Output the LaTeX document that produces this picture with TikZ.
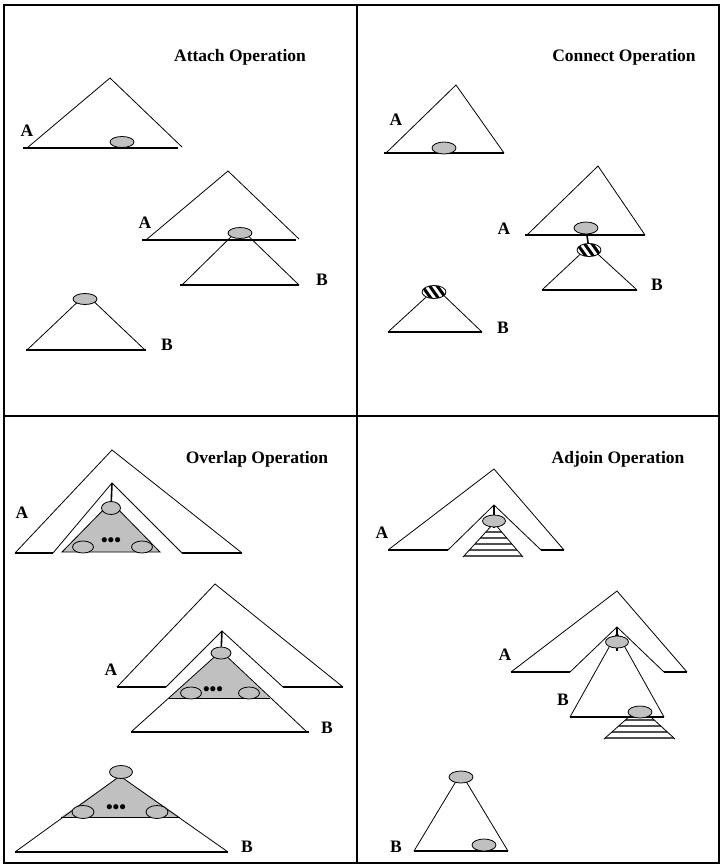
\documentclass[tikz,border=0pt]{standalone}
\usepackage{fontspec}
\setmainfont{Liberation Serif}
\usepackage{tikz}
\usetikzlibrary{shapes.geometric}
\definecolor{nodegray}{RGB}{192,192,192}
\definecolor{stripegray}{RGB}{80,80,80}
\tikzset{
  frame/.style={line width=1.4pt},
  edge/.style={line width=0.8pt},
  base/.style={line width=1.8pt},
  nd/.style={ellipse, draw, fill=nodegray, line width=0.8pt, inner sep=0pt,
             minimum width=24pt, minimum height=11pt},
  hatch/.style={nd, fill=white, minimum width=24pt, minimum height=13pt,
    path picture={\foreach \d in {-7.5,0,7.5}
      \draw[line width=3pt] ([xshift=\d pt-5pt, yshift=7pt]path picture bounding box.center) -- ++(10pt,-14pt);}},
  lbl/.style={font=\bfseries\fontsize{17.5}{17}\selectfont, inner sep=0pt},
  ttl/.style={font=\bfseries\fontsize{17.5}{18}\selectfont, inner sep=0pt},
  dots/.style={font=\bfseries\fontsize{19}{19}\selectfont, inner sep=0pt},
  stripes/.style={line width=2pt, stripegray}
}

\begin{document}
\begin{tikzpicture}[x=1pt, y=-1pt]
  \useasboundingbox (0,0) rectangle (722,867);
  \draw[frame] (4,5) rectangle (719,863);
  \draw[frame] (357,5) -- (357,863);
  \draw[frame] (4,416) -- (719,416);

  % Attach
  \node[ttl] (t1) at (240,57) {Attach Operation};
  \draw[edge] (27,148) -- (110,78) -- (182,147);
  \draw[base] (23,148) -- (178,148);
  \node[nd] (a1) at (122,142) {};
  \node[lbl] (la1) at (27,131) {A};
  \draw[edge] (146,240) -- (228,171) -- (299,239);
  \draw[edge] (182,285) -- (240,228) -- (299,285);
  \draw[base] (142,240) -- (296,240);
  \draw[base] (180,285) -- (299,285);
  \node[nd] (a2) at (240,233) {};
  \node[lbl] (la2) at (145,223) {A};
  \node[lbl] (lb2) at (322,280) {B};
  \draw[edge] (27,350) -- (86,294) -- (145,350);
  \draw[base] (26,350) -- (146,350);
  \node[nd] (b1) at (85,299) {};
  \node[lbl] (lb1) at (167,345) {B};

  % Connect
  \node[ttl] (t2) at (624,57) {Connect Operation};
  \draw[edge] (386,153) -- (456,85) -- (504,153);
  \draw[base] (384,153) -- (504,153);
  \node[nd, minimum height=12pt] (ca1) at (444,148) {};
  \node[lbl] (lca1) at (396,120) {A};
  \draw[edge] (527,235) -- (598,166) -- (645,235);
  \draw[base] (525,235) -- (645,235);
  \draw[edge] (542,290) -- (589,246) -- (637,290);
  \draw[base] (542,290) -- (637,290);
  \node[nd, minimum height=12pt] (ca2) at (586,228) {};
  \node[hatch] (cb2) at (589,250) {};
  \draw[line width=1.6pt] (ca2) -- (cb2);
  \node[lbl] (lca2) at (504,229) {A};
  \node[lbl] (lcb2) at (657,285) {B};
  \draw[edge] (388,332) -- (436,288) -- (482,332);
  \draw[base] (388,332) -- (482,332);
  \node[hatch] (cb1) at (434,292) {};
  \node[lbl] (lcb1) at (503,328) {B};

  % Overlap
  \node[ttl] (t3) at (257,459) {Overlap Operation};
  \draw[edge] (53,553) -- (112,483) -- (182,553);
  \draw[edge] (242,553) -- (112,450) -- (15,553);
  \draw[base] (15,553) -- (53,553);
  \draw[base] (182,553) -- (242,553);
  \draw[fill=nodegray, edge] (62,552) -- (111,502) -- (160,552) -- cycle;
  \node[nd, minimum width=19pt, minimum height=13pt] (oa1) at (111,508) {};
  \draw[line width=1.6pt] (112,483) -- (oa1);
  \node[nd, minimum width=21pt, minimum height=12pt] (oa1l) at (83,547) {};
  \node[nd, minimum width=21pt, minimum height=12pt] (oa1r) at (142,547) {};
  \node[dots] (od1) at (111,542) {\textbullet\textbullet\textbullet};
  \node[lbl] (loa1) at (22,513) {A};

  \draw[edge] (166,687) -- (222,631) -- (283,687);
  \draw[edge] (343,687) -- (215,584) -- (117,687);
  \draw[base] (117,687) -- (166,687);
  \draw[base] (283,687) -- (343,687);
  \fill[nodegray] (169,698) -- (221,651) -- (270,698) -- cycle;
  \draw[edge] (131,732) -- (221,651) -- (307,732);
  \draw[edge] (169,698) -- (270,698);
  \draw[base] (131,732) -- (309,732);
  \node[nd, minimum width=20pt, minimum height=12pt] (oa2) at (221,653) {};
  \draw[line width=1.6pt] (222,631) -- (oa2);
  \node[nd, minimum width=21pt, minimum height=12pt] (oa2l) at (191,693) {};
  \node[nd, minimum width=21pt, minimum height=12pt] (oa2r) at (249,693) {};
  \node[dots] (od2) at (213,691) {\textbullet\textbullet\textbullet};
  \node[lbl] (loa2) at (111,670) {A};
  \node[lbl] (lob2) at (327,728) {B};

  \fill[nodegray] (61,817) -- (120,776) -- (180,817) -- cycle;
  \draw[edge] (15,852) -- (120,776) -- (228,852);
  \draw[edge] (61,817) -- (180,817);
  \draw[base] (15,852) -- (228,852);
  \node[nd, minimum width=23pt, minimum height=13pt] (ob1) at (121,772) {};
  \node[nd, minimum width=22pt, minimum height=13pt] (ob1l) at (83,812) {};
  \node[nd, minimum width=22pt, minimum height=13pt] (ob1r) at (157,812) {};
  \node[dots] (od3) at (116,809) {\textbullet\textbullet\textbullet};
  \node[lbl] (lob1) at (247,847) {B};

  % Adjoin
  \node[ttl] (t4) at (618,459) {Adjoin Operation};
  \draw[edge] (448,550) -- (494,505) -- (541,550);
  \draw[edge] (564,550) -- (494,469) -- (388,550);
  \draw[base] (388,550) -- (448,550);
  \draw[base] (541,550) -- (564,550);
  \begin{scope}
    \clip (463,557) -- (494,523) -- (523,557) -- cycle;
    \foreach \y in {532,538,544,550,556}
      \draw[stripes] (455,\y) -- (530,\y);
  \end{scope}
  \draw[edge] (463,557) -- (494,523) -- (523,557);
  \draw[line width=1.6pt] (494,505) -- (494,528);
  \node[nd, minimum width=23pt, minimum height=12pt] (ja1) at (494,521) {};
  \node[lbl] (lja1) at (382,533) {A};

  \draw[edge] (570,672) -- (617,627) -- (664,672);
  \draw[edge] (687,672) -- (617,591) -- (511,672);
  \draw[base] (511,672) -- (570,672);
  \draw[base] (664,672) -- (687,672);
  \draw[edge] (570,717) -- (617,633) -- (664,717);
  \draw[base] (570,717) -- (664,717);
  \draw[line width=1.6pt] (617,627) -- (617,651);
  \node[nd, minimum width=23pt, minimum height=12pt] (ja2) at (617,642) {};
  \node[lbl] (lja2) at (505,655) {A};
  \node[lbl] (ljb2) at (563,700) {B};
  \begin{scope}
    \clip (604,739) -- (640,707) -- (675,739) -- cycle;
    \foreach \y in {720,726,732,738}
      \draw[stripes] (600,\y) -- (680,\y);
  \end{scope}
  \draw[edge] (604,739) -- (640,707) -- (675,739);
  \node[nd, minimum height=12pt] (jb2) at (640,712) {};

  \draw[edge] (414,851) -- (461,773) -- (508,851);
  \draw[base] (414,851) -- (508,851);
  \node[nd, minimum height=12pt] (jb1) at (461,777) {};
  \node[nd, minimum height=12pt] (jb1l) at (484,845) {};
  \node[lbl] (ljb1) at (396,847) {B};
\end{tikzpicture}
\end{document}
